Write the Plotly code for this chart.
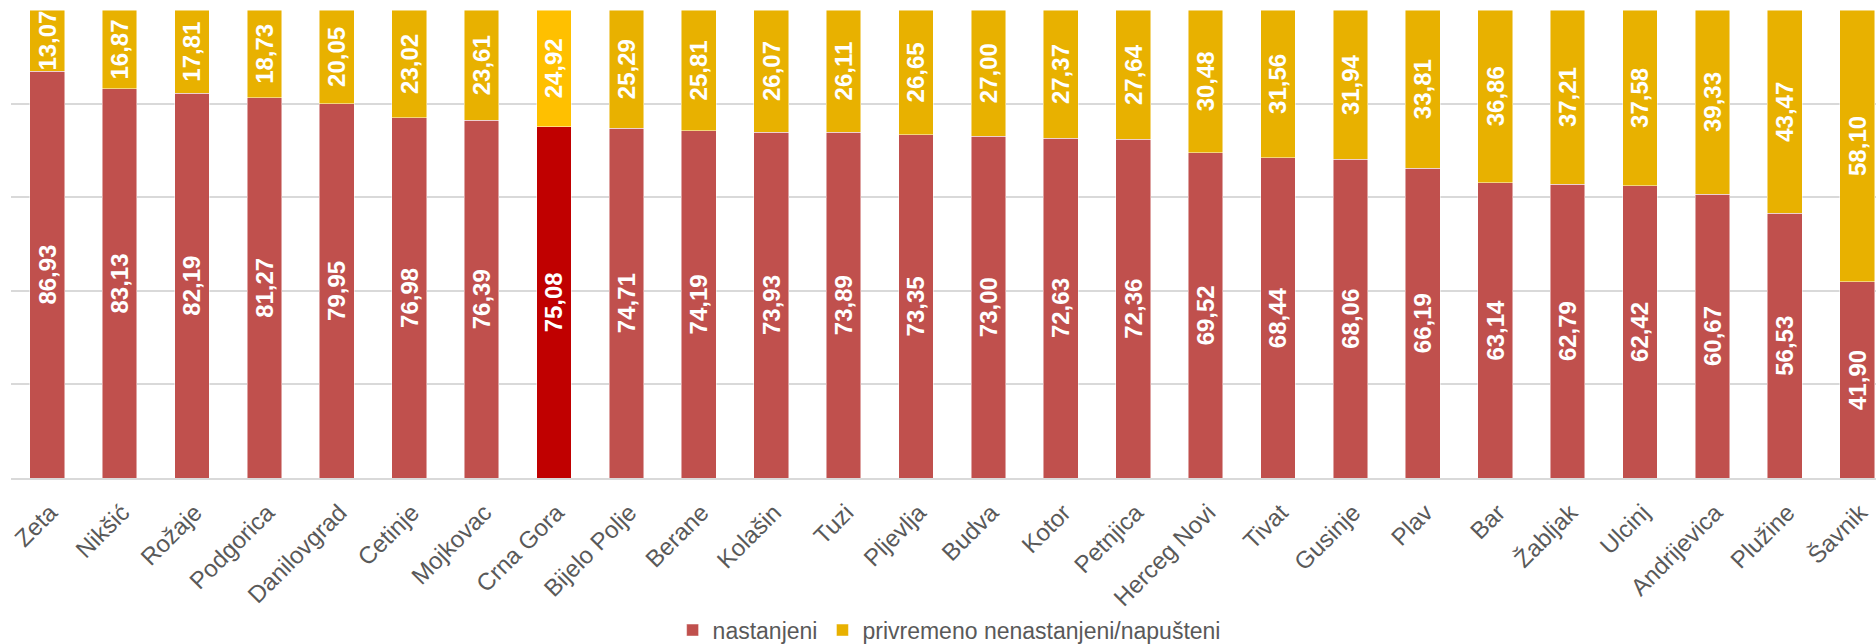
import plotly.graph_objects as go

categories = ["Zeta", "Nikšić", "Rožaje", "Podgorica", "Danilovgrad", "Cetinje", "Mojkovac",
              "Crna Gora", "Bijelo Polje", "Berane", "Kolašin", "Tuzi", "Pljevlja", "Budva",
              "Kotor", "Petnjica", "Herceg Novi", "Tivat", "Gusinje", "Plav", "Bar", "Žabljak",
              "Ulcinj", "Andrijevica", "Plužine", "Šavnik"]
nastanjeni = [86.93, 83.13, 82.19, 81.27, 79.95, 76.98, 76.39, 75.08, 74.71, 74.19, 73.93, 73.89,
              73.35, 73.00, 72.63, 72.36, 69.52, 68.44, 68.06, 66.19, 63.14, 62.79, 62.42, 60.67,
              56.53, 41.90]
nenastanjeni = [13.07, 16.87, 17.81, 18.73, 20.05, 23.02, 23.61, 24.92, 25.29, 25.81, 26.07, 26.11,
                26.65, 27.00, 27.37, 27.64, 30.48, 31.56, 31.94, 33.81, 36.86, 37.21, 37.58, 39.33,
                43.47, 58.10]
highlight = "Crna Gora"

RED, RED_HI = "#C0504D", "#C00000"
GOLD, GOLD_HI = "#E8B100", "#FFC000"

def fmt(v):
    return f"{v:.2f}".replace(".", ",")

red_colors = [RED_HI if c == highlight else RED for c in categories]
gold_colors = [GOLD_HI if c == highlight else GOLD for c in categories]

label_font = dict(family="Liberation Sans", size=24, color="white", weight="bold")

fig = go.Figure()
fig.add_trace(go.Bar(
    x=categories, y=nastanjeni, name="nastanjeni",
    marker=dict(color=red_colors, line=dict(color="rgba(255,255,255,0.6)", width=0.8)),
    text=[fmt(v) for v in nastanjeni], textposition="inside", insidetextanchor="middle",
    textangle=-90, textfont=label_font, hoverinfo="x+y",
))
fig.add_trace(go.Bar(
    x=categories, y=nenastanjeni, name="privremeno nenastanjeni/napušteni",
    marker=dict(color=gold_colors, line=dict(color="rgba(255,255,255,0.6)", width=0.8)),
    text=[fmt(v) for v in nenastanjeni], textposition="inside", insidetextanchor="middle",
    textangle=-90, textfont=label_font, hoverinfo="x+y",
))

fig.update_layout(
    width=1876, height=644,
    margin=dict(l=11, r=0, t=10, b=166, autoexpand=False),
    barmode="stack", bargap=0.52,
    plot_bgcolor="white", paper_bgcolor="white",
    uniformtext=dict(mode="show", minsize=24),
    font=dict(family="Liberation Sans", color="#595959"),
    showlegend=True,
    legend=dict(orientation="h", x=0.503, xanchor="center", y=-0.325, yanchor="middle",
                traceorder="normal", font=dict(size=23, color="#595959"),
                itemwidth=30, bgcolor="rgba(0,0,0,0)"),
)
fig.update_xaxes(
    type="category", range=[-0.5, 25.26], tickangle=-45,
    tickfont=dict(size=24, color="#595959"), showline=True, linecolor="#D9D9D9",
    linewidth=2, ticks="", automargin=False, showgrid=False,
    ticklabelstandoff=9, ticklabelshift=3,
)
fig.update_yaxes(
    range=[0, 100], dtick=20, showticklabels=False, showgrid=True, gridcolor="#D9D9D9",
    gridwidth=1.5, zeroline=False, showline=False, automargin=False,
)

fig.write_html("out.html")
